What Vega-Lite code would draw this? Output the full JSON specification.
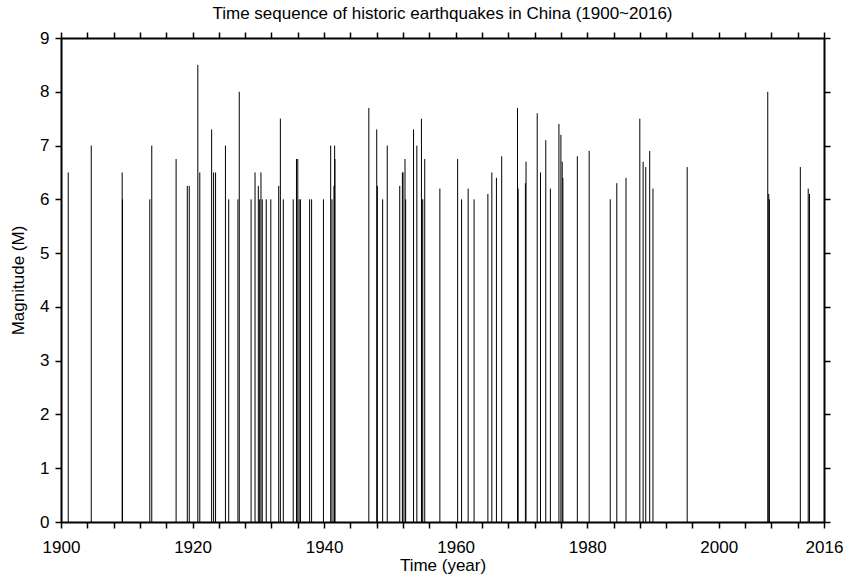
{
  "$schema": "https://vega.github.io/schema/vega-lite/v6.json",
  "width": 763,
  "height": 484,
  "autosize": {"type": "none"},
  "padding": {"left": 61, "top": 38, "right": 20, "bottom": 53},
  "background": "white",
  "title": {"text": "Time sequence of historic earthquakes in China (1900~2016)", "font": "Liberation Sans", "fontSize": 17, "fontWeight": "normal", "color": "#000", "offset": 6, "anchor": "middle"},
  "config": {"view": {"stroke": null}, "font": "Liberation Sans"},
  "data": {"values": [
    {"year": 1901.1, "mag": 6.5}, {"year": 1904.6, "mag": 7.0}, {"year": 1909.3, "mag": 6.5}, {"year": 1909.35, "mag": 6.0},
    {"year": 1913.5, "mag": 6.0}, {"year": 1913.8, "mag": 7.0}, {"year": 1917.5, "mag": 6.75}, {"year": 1919.2, "mag": 6.25},
    {"year": 1919.5, "mag": 6.25}, {"year": 1920.8, "mag": 8.5}, {"year": 1921.1, "mag": 6.5}, {"year": 1922.9, "mag": 7.3},
    {"year": 1923.2, "mag": 6.5}, {"year": 1923.5, "mag": 6.5}, {"year": 1925.0, "mag": 7.0}, {"year": 1925.5, "mag": 6.0},
    {"year": 1926.9, "mag": 6.0}, {"year": 1927.1, "mag": 8.0}, {"year": 1928.9, "mag": 6.0}, {"year": 1929.5, "mag": 6.5},
    {"year": 1930.0, "mag": 6.25}, {"year": 1930.2, "mag": 6.0}, {"year": 1930.4, "mag": 6.5}, {"year": 1930.6, "mag": 6.0},
    {"year": 1931.2, "mag": 6.0}, {"year": 1931.9, "mag": 6.0}, {"year": 1933.1, "mag": 6.25}, {"year": 1933.35, "mag": 7.5},
    {"year": 1933.8, "mag": 6.0}, {"year": 1935.3, "mag": 6.0}, {"year": 1935.8, "mag": 6.75}, {"year": 1936.0, "mag": 6.75},
    {"year": 1936.2, "mag": 6.0}, {"year": 1936.4, "mag": 6.0}, {"year": 1937.8, "mag": 6.0}, {"year": 1938.1, "mag": 6.0},
    {"year": 1939.9, "mag": 6.0}, {"year": 1941.0, "mag": 7.0}, {"year": 1941.2, "mag": 6.0}, {"year": 1941.5, "mag": 6.25},
    {"year": 1941.6, "mag": 7.0}, {"year": 1941.65, "mag": 6.75}, {"year": 1946.8, "mag": 7.7}, {"year": 1948.0, "mag": 7.3},
    {"year": 1948.1, "mag": 6.25}, {"year": 1948.9, "mag": 6.0}, {"year": 1949.6, "mag": 7.0}, {"year": 1951.5, "mag": 6.25},
    {"year": 1951.9, "mag": 6.5}, {"year": 1952.0, "mag": 6.5}, {"year": 1952.3, "mag": 6.75}, {"year": 1952.4, "mag": 6.0},
    {"year": 1953.6, "mag": 7.3}, {"year": 1954.1, "mag": 7.0}, {"year": 1954.8, "mag": 7.5}, {"year": 1954.85, "mag": 6.0},
    {"year": 1955.0, "mag": 6.0}, {"year": 1955.3, "mag": 6.75}, {"year": 1957.6, "mag": 6.2}, {"year": 1960.3, "mag": 6.75},
    {"year": 1960.9, "mag": 6.0}, {"year": 1961.9, "mag": 6.2}, {"year": 1962.8, "mag": 6.0}, {"year": 1964.9, "mag": 6.1},
    {"year": 1965.5, "mag": 6.5}, {"year": 1966.2, "mag": 6.4}, {"year": 1967.0, "mag": 6.8}, {"year": 1969.4, "mag": 7.7},
    {"year": 1969.5, "mag": 6.2}, {"year": 1970.6, "mag": 6.3}, {"year": 1970.7, "mag": 6.7}, {"year": 1972.4, "mag": 7.6},
    {"year": 1972.9, "mag": 6.5}, {"year": 1973.7, "mag": 7.1}, {"year": 1974.4, "mag": 6.2}, {"year": 1975.7, "mag": 7.4},
    {"year": 1976.0, "mag": 7.2}, {"year": 1976.2, "mag": 6.7}, {"year": 1976.3, "mag": 6.4}, {"year": 1978.5, "mag": 6.8},
    {"year": 1980.3, "mag": 6.9}, {"year": 1983.5, "mag": 6.0}, {"year": 1984.5, "mag": 6.3}, {"year": 1985.9, "mag": 6.4},
    {"year": 1988.0, "mag": 7.5}, {"year": 1988.5, "mag": 6.7}, {"year": 1988.9, "mag": 6.6}, {"year": 1989.5, "mag": 6.9},
    {"year": 1990.0, "mag": 6.2}, {"year": 1995.2, "mag": 6.6}, {"year": 2007.45, "mag": 8.0}, {"year": 2007.6, "mag": 6.1},
    {"year": 2007.7, "mag": 6.0}, {"year": 2012.4, "mag": 6.6}, {"year": 2013.6, "mag": 6.2}, {"year": 2013.8, "mag": 6.1}
  ]},
  "layer": [
    {
      "mark": {"type": "rule", "color": "#000", "strokeWidth": 1},
      "encoding": {
        "x": {"field": "year", "type": "quantitative",
          "scale": {"domain": [1900, 2016], "nice": false, "zero": false},
          "axis": {"orient": "bottom", "title": "Time (year)",
            "values": [1900,1904,1908,1912,1916,1920,1924,1928,1932,1936,1940,1944,1948,1952,1956,1960,1964,1968,1972,1976,1980,1984,1988,1992,1996,2000,2004,2008,2012,2016],
            "labelExpr": "(datum.value % 20 == 0 || datum.value == 2016) ? format(datum.value, 'd') : ''",
            "grid": false, "domainColor": "#000", "domainWidth": 2, "tickColor": "#000", "tickWidth": 1.5, "tickSize": 6,
            "labelFont": "Liberation Sans", "labelFontSize": 17, "labelColor": "#000", "labelPadding": 11, "labelOverlap": false, "labelFlush": false,
            "titleFont": "Liberation Sans", "titleFontSize": 17, "titleFontWeight": "normal", "titleColor": "#000", "titlePadding": 2}},
        "y": {"field": "mag", "type": "quantitative",
          "scale": {"domain": [0, 9], "nice": false},
          "axis": {"orient": "left", "title": "Magnitude (M)", "values": [0,1,2,3,4,5,6,7,8,9],
            "grid": false, "domainColor": "#000", "domainWidth": 2, "tickColor": "#000", "tickWidth": 1.5, "tickSize": 6,
            "labelFont": "Liberation Sans", "labelFontSize": 17, "labelColor": "#000", "labelPadding": 6,
            "titleFont": "Liberation Sans", "titleFontSize": 17, "titleFontWeight": "normal", "titleColor": "#000", "titlePadding": 12}},
        "y2": {"datum": 0}
      }
    },
    {
      "mark": {"type": "rule", "opacity": 0},
      "encoding": {
        "x": {"field": "year", "type": "quantitative",
          "axis": {"orient": "top", "title": null, "labels": false,
            "values": [1900,1904,1908,1912,1916,1920,1924,1928,1932,1936,1940,1944,1948,1952,1956,1960,1964,1968,1972,1976,1980,1984,1988,1992,1996,2000,2004,2008,2012,2016],
            "grid": false, "domainColor": "#000", "domainWidth": 2, "tickColor": "#000", "tickWidth": 1.5, "tickSize": 6}},
        "y": {"field": "mag", "type": "quantitative",
          "axis": {"orient": "right", "title": null, "labels": false, "values": [0,1,2,3,4,5,6,7,8,9],
            "grid": false, "domainColor": "#000", "domainWidth": 2, "tickColor": "#000", "tickWidth": 1.5, "tickSize": 6}},
        "y2": {"datum": 0}
      }
    }
  ],
  "resolve": {"axis": {"x": "independent", "y": "independent"}}
}
